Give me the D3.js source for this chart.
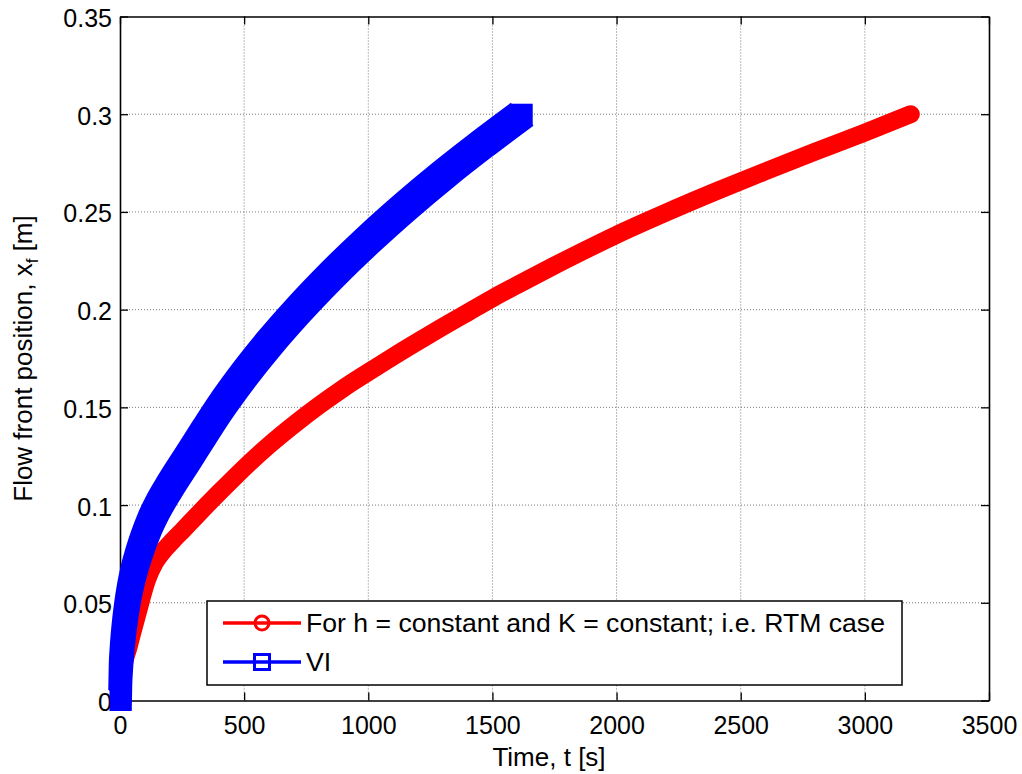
<!DOCTYPE html>
<html>
<head>
<meta charset="utf-8">
<script src="https://cdn.jsdelivr.net/npm/d3@7"></script>
<style>
  html, body { margin: 0; padding: 0; background: #fff; }
  svg { display: block; font-family: "Liberation Sans", Arial, Helvetica, sans-serif; }
</style>
</head>
<body>
<svg id="chart" width="1022" height="774"></svg>
<script>
// ---- data ----
const rtmTime = [0, 10, 35, 71, 109, 140, 174, 210, 255, 300, 346, 400, 450, 520, 600, 711, 800, 900, 1000, 1100, 1200, 1300, 1400, 1500, 1600, 1700, 1850, 2000, 2200, 2400, 2600, 2800, 3000, 3185];
const rtmFront = [0, 0.014, 0.0276, 0.0448, 0.0618, 0.0705, 0.0765, 0.0815, 0.0874, 0.0934, 0.0995, 0.1065, 0.1128, 0.1214, 0.1306, 0.1422, 0.1508, 0.1598, 0.168, 0.1760, 0.1837, 0.1912, 0.1985, 0.2058, 0.2126, 0.2193, 0.2290, 0.2383, 0.2497, 0.2605, 0.2708, 0.2808, 0.2906, 0.300];
const viTime = [0, 2, 5, 10, 16, 24, 35, 47, 65, 90, 120, 150, 200, 278, 340, 400, 500, 600, 718, 850, 1000, 1150, 1300, 1450, 1620];
const viFront = [0, 0.013, 0.0205, 0.029, 0.0368, 0.045, 0.054, 0.0617, 0.0705, 0.0805, 0.0905, 0.0985, 0.1095, 0.125, 0.1374, 0.1491, 0.1667, 0.1826, 0.1997, 0.2173, 0.2357, 0.2528, 0.2688, 0.2838, 0.300];
const xTicks = [0, 500, 1000, 1500, 2000, 2500, 3000, 3500];
const yTicks = [0, 0.05, 0.1, 0.15, 0.2, 0.25, 0.3, 0.35];
const yTickLabels = ["0", "0.05", "0.1", "0.15", "0.2", "0.25", "0.3", "0.35"];
const seriesNames = ["For h = constant and K = constant; i.e. RTM case", "VI"];
const seriesColors = ["#ff0000", "#0000ff"];

// ---- layout ----
const L = 120, R = 989, T = 16.5, B = 700.5;
const svg = d3.select("#chart");
const x = d3.scaleLinear().domain([0, 3500]).range([L, R]);
const y = d3.scaleLinear().domain([0, 0.35]).range([B, T]);

// grid
const grid = svg.append("g");
grid.selectAll("line.gx").data(xTicks.slice(1, -1)).join("line")
  .attr("x1", d => x(d)).attr("x2", d => x(d)).attr("y1", T).attr("y2", B)
  .attr("stroke", "#777").attr("stroke-width", 1).attr("stroke-dasharray", "1,2");
grid.selectAll("line.gy").data(yTicks.slice(1, -1)).join("line")
  .attr("y1", d => y(d)).attr("y2", d => y(d)).attr("x1", L).attr("x2", R)
  .attr("stroke", "#777").attr("stroke-width", 1).attr("stroke-dasharray", "1,2");

// axes (MATLAB style: inward ticks on all four sides)
const tickLen = 8;
const axB = svg.append("g").attr("transform", `translate(0,${B})`)
  .call(d3.axisBottom(x).tickValues(xTicks).tickSizeInner(-tickLen).tickSizeOuter(0).tickPadding(14).tickFormat(d3.format("d")));
const axT = svg.append("g").attr("transform", `translate(0,${T})`)
  .call(d3.axisTop(x).tickValues(xTicks).tickSizeInner(-tickLen).tickSizeOuter(0).tickFormat(""));
const axL = svg.append("g").attr("transform", `translate(${L},0)`)
  .call(d3.axisLeft(y).tickValues(yTicks).tickSizeInner(-tickLen).tickSizeOuter(0).tickPadding(8).tickFormat((d, i) => yTickLabels[i]));
const axR = svg.append("g").attr("transform", `translate(${R},0)`)
  .call(d3.axisRight(y).tickValues(yTicks).tickSizeInner(-tickLen).tickSizeOuter(0).tickFormat(""));
[axB, axT, axL, axR].forEach(a => {
  a.select(".domain").attr("stroke", "#000").attr("stroke-width", 1.6);
  a.selectAll(".tick line").attr("stroke", "#000").attr("stroke-width", 1.3);
  a.selectAll(".tick text").attr("fill", "#000").attr("font-size", 25)
    .attr("font-family", '"Liberation Sans", Arial, sans-serif');
});
axB.selectAll(".tick text").attr("dy", null).attr("y", 33).attr("dominant-baseline", "alphabetic");
axL.selectAll(".tick text").attr("dy", null).attr("y", 10).attr("x", -8).attr("dominant-baseline", "alphabetic");

// axis labels
svg.append("text").attr("x", 549).attr("y", 766).attr("text-anchor", "middle")
  .attr("font-size", 26).attr("fill", "#000").text("Time, t [s]");
const yl = svg.append("text").attr("transform", `translate(32,${(T + B) / 2}) rotate(-90)`)
  .attr("text-anchor", "middle").attr("font-size", 26).attr("fill", "#000");
yl.append("tspan").text("Flow front position, x");
yl.append("tspan").attr("font-size", 17).attr("dy", 6).text("f");
yl.append("tspan").attr("dy", -6).text(" [m]");

// ---- series ----
const rtm = rtmTime.map((t, i) => [t, rtmFront[i]]);
const vi = viTime.map((t, i) => [t, viFront[i]]);
const line = d3.line().x(d => x(d[0])).y(d => y(d[1])).curve(d3.curveMonotoneX);

// RTM: dense circle markers -> round band
svg.append("path").datum(rtm).attr("d", line)
  .attr("fill", "none").attr("stroke", seriesColors[0]).attr("stroke-width", 18)
  .attr("stroke-linecap", "round").attr("stroke-linejoin", "round");

// VI: dense square markers -> band swept by a square
const half = 10.5;
const viG = svg.append("g");
for (let k = -half; k <= half + 0.01; k += 1) {
  viG.append("path").datum(vi).attr("d", line)
    .attr("transform", `translate(${k},${k})`)
    .attr("fill", "none").attr("stroke", seriesColors[1]).attr("stroke-width", 2.5)
    .attr("stroke-linejoin", "round");
}
viG.selectAll("rect.end").data([vi[0], vi[vi.length - 1]]).join("rect")
  .attr("x", d => x(d[0]) - half).attr("y", d => y(d[1]) - half)
  .attr("width", 2 * half).attr("height", 2 * half).attr("fill", seriesColors[1]);

// ---- legend ----
const lg = svg.append("g");
lg.append("rect").attr("x", 207).attr("y", 601).attr("width", 695).attr("height", 84)
  .attr("fill", "#fff").attr("stroke", "#000").attr("stroke-width", 1.5);
const rows = [623, 662];
rows.forEach((ry, i) => {
  lg.append("line").attr("x1", 223).attr("x2", 301).attr("y1", ry).attr("y2", ry)
    .attr("stroke", seriesColors[i]).attr("stroke-width", 3.5);
  if (i === 0) {
    lg.append("circle").attr("cx", 262).attr("cy", ry).attr("r", 7)
      .attr("fill", "none").attr("stroke", seriesColors[i]).attr("stroke-width", 3);
  } else {
    lg.append("rect").attr("x", 262 - 7.5).attr("y", ry - 7.5).attr("width", 15).attr("height", 15)
      .attr("fill", "none").attr("stroke", seriesColors[i]).attr("stroke-width", 3);
  }
  lg.append("text").attr("x", 306).attr("y", ry + 9).attr("font-size", 26.6).attr("fill", "#000")
    .text(seriesNames[i]);
});
</script>
</body>
</html>
